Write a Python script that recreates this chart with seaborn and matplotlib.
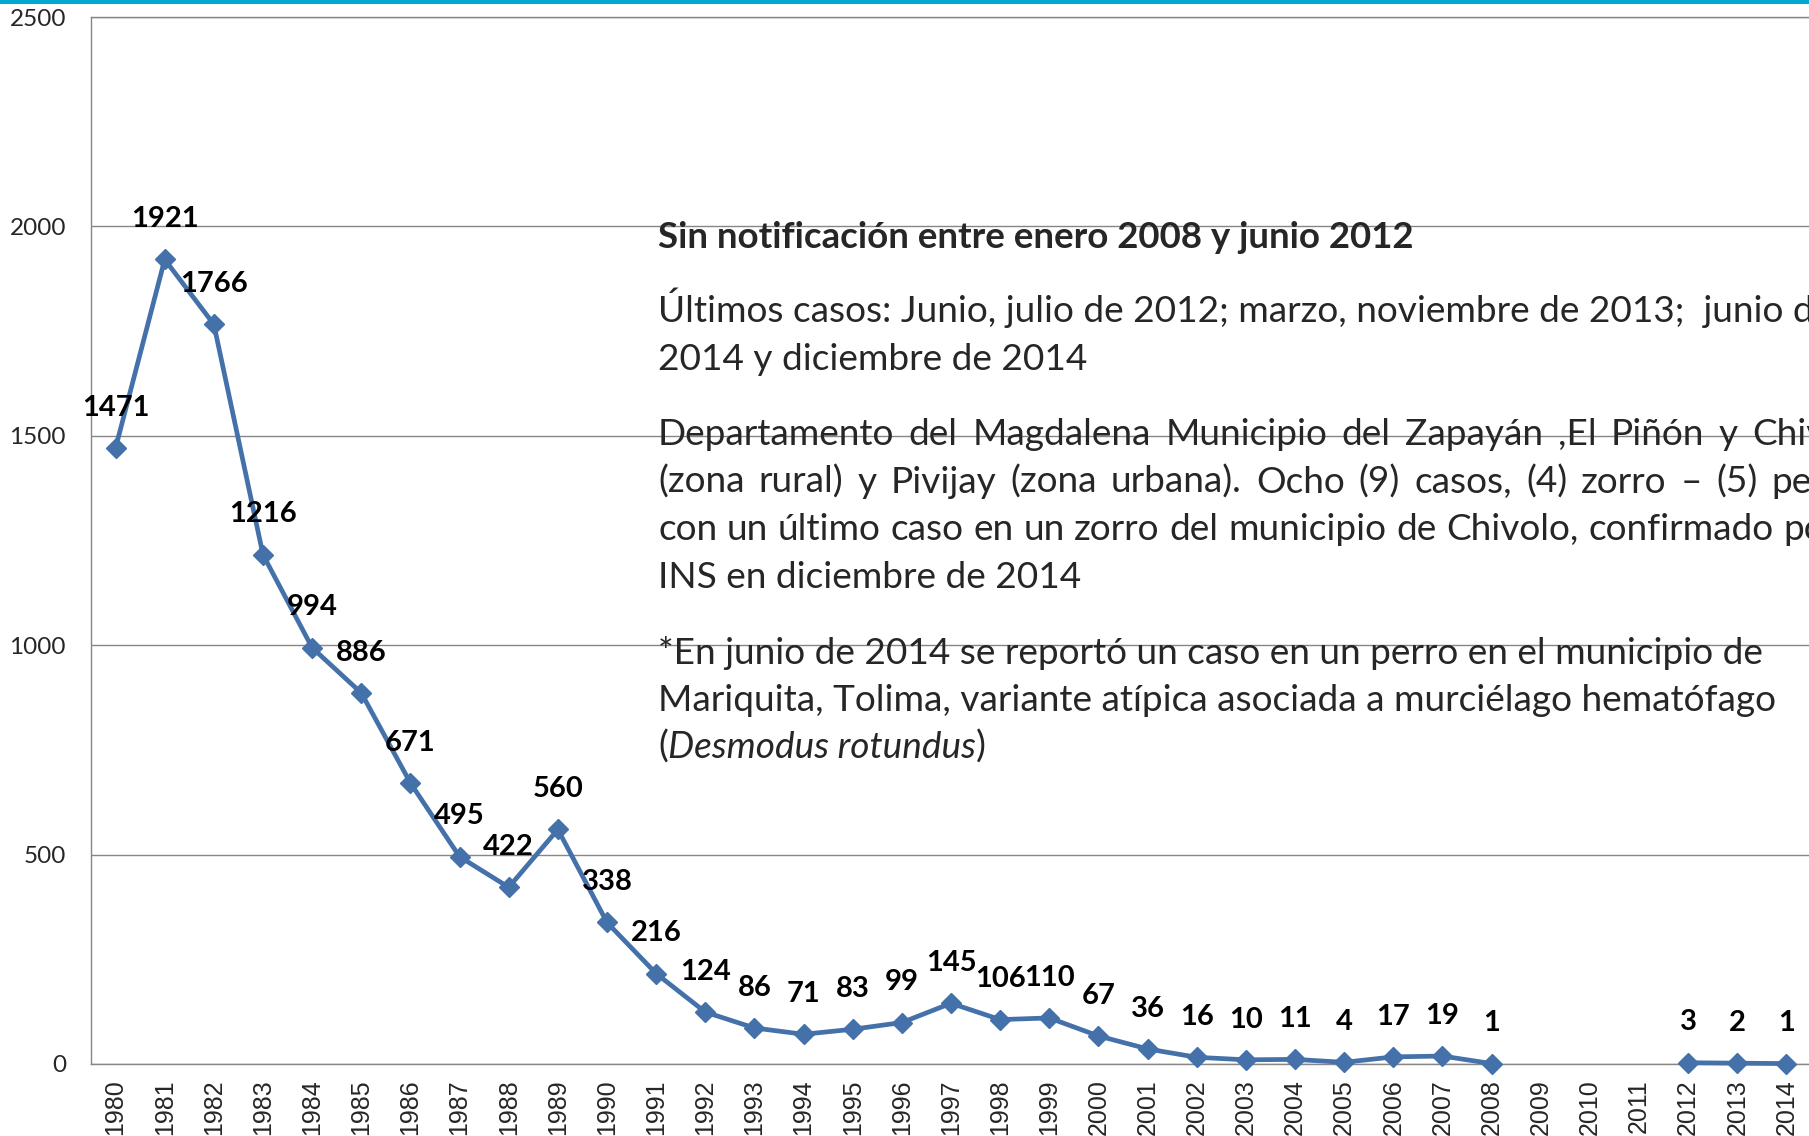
import pandas as pd
import numpy as np
import matplotlib
matplotlib.use("Agg")
import matplotlib.pyplot as plt
from matplotlib import font_manager
from matplotlib.patches import Rectangle
import seaborn as sns

years = list(range(1980, 2015))
cases = [1471, 1921, 1766, 1216, 994, 886, 671, 495, 422, 560,
         338, 216, 124, 86, 71, 83, 99, 145, 106, 110,
         67, 36, 16, 10, 11, 4, 17, 19, 1, None,
         None, None, 3, 2, 1]
yticks = [0, 500, 1000, 1500, 2000, 2500]

title_txt = "Sin notificación entre enero 2008 y junio 2012"
para1 = ["Últimos casos: Junio, julio de 2012; marzo, noviembre de 2013;  junio de",
         "2014 y diciembre de 2014"]
para2 = ["Departamento del Magdalena Municipio del Zapayán ,El Piñón y Chivolo",
         "(zona rural) y Pivijay (zona urbana). Ocho (9) casos, (4) zorro – (5) perros",
         "con un último caso en un zorro del municipio de Chivolo, confirmado por el",
         "INS en diciembre de 2014"]
para3 = ["*En junio de 2014 se reportó un caso en un perro en el municipio de",
         "Mariquita, Tolima, variante atípica asociada a murciélago hematófago"]
para3_last = ["(", "Desmodus rotundus", ")"]

df = pd.DataFrame({"year": years, "cases": cases}).dropna()
df["segment"] = np.where(df["year"] <= 2008, 0, 1)

names = {f.name for f in font_manager.fontManager.ttflist}
body = "Liberation Sans Narrow" if "Liberation Sans Narrow" in names else "Lato"

sns.set_style("white")
plt.rcParams["font.family"] = ["Lato", "DejaVu Sans"]

W, H = 1809, 1136
fig = plt.figure(figsize=(W / 100, H / 100), dpi=100)
ax = fig.add_axes([91 / W, 1 - 1064 / H, (1811 - 91) / W, (1064 - 17) / H])

blue = "#4471a9"
sns.lineplot(data=df, x="year", y="cases", units="segment", estimator=None,
             color=blue, lw=3.4, marker="D", ms=10, mec=blue, mew=1,
             clip_on=False, zorder=3, ax=ax)

for _, r in df.iterrows():
    ax.annotate(str(int(r["cases"])), (r["year"], r["cases"]), xytext=(0, 29),
                textcoords="offset points", ha="center", va="center",
                fontsize=21, fontweight="bold", color="black")

ax.set_xlim(1979.5, 2014.5)
ax.set_ylim(0, 2500)
ax.set_xticks(years)
ax.set_xticklabels([str(y) for y in years], rotation=90,
                   family="Liberation Sans", fontsize=18)
ax.set_yticks(yticks)
ax.set_yticklabels([str(v) for v in yticks], fontsize=17.5)
ax.tick_params(axis="x", length=0, pad=11)
ax.tick_params(axis="y", length=0, pad=18)
ax.set_xlabel("")
ax.set_ylabel("")
ax.yaxis.grid(True, color="#868686", lw=1)
for s in ["left", "bottom", "top"]:
    ax.spines[s].set_color("#868686")
    ax.spines[s].set_linewidth(1)
ax.spines["right"].set_visible(False)

fig.add_artist(Rectangle((0, 1 - 4 / H), 1, 4 / H, transform=fig.transFigure,
                         color="#00a8cf", lw=0))

renderer = fig.canvas.get_renderer()
x0 = 658


def width_of(t):
    return t.get_window_extent(renderer).width


# fit body size to reference line width
probe = fig.text(0, 0, para3[0], family=body, fontsize=20)
size = 20 * 1108 / width_of(probe)
probe.remove()
probe = fig.text(0, 0, title_txt, family=body, fontsize=20, fontweight="bold")
tsize = 20 * 757 / width_of(probe)
probe.remove()


def put(x, ybase, s, **kw):
    return fig.text(x / W, 1 - ybase / H, s, family=body, fontsize=size,
                    va="baseline", ha="left", **kw)


def justify(words, ybase, x1=1876):
    texts = [put(0, ybase, w) for w in words]
    widths = [width_of(t) for t in texts]
    gap = (x1 - x0 - sum(widths)) / (len(words) - 1)
    x = x0
    for t, w in zip(texts, widths):
        t.set_x(x / W)
        x += w + gap


fig.text(x0 / W, 1 - 248 / H, title_txt, family=body, fontsize=tsize,
         fontweight="bold", va="baseline")
put(x0, 322, para1[0])
put(x0, 370, para1[1])
for i, line in enumerate(para2):
    yb = 445 + i * 47.7
    if i < len(para2) - 1:
        justify(line.split(" "), yb)
    else:
        put(x0, yb, line)
put(x0, 664, para3[0])
put(x0, 711, para3[1])
x = x0
for k, part in enumerate(para3_last):
    t = put(x, 758, part, style="italic" if k == 1 else "normal")
    x += width_of(t)

fig.savefig("out.png", dpi=100)
